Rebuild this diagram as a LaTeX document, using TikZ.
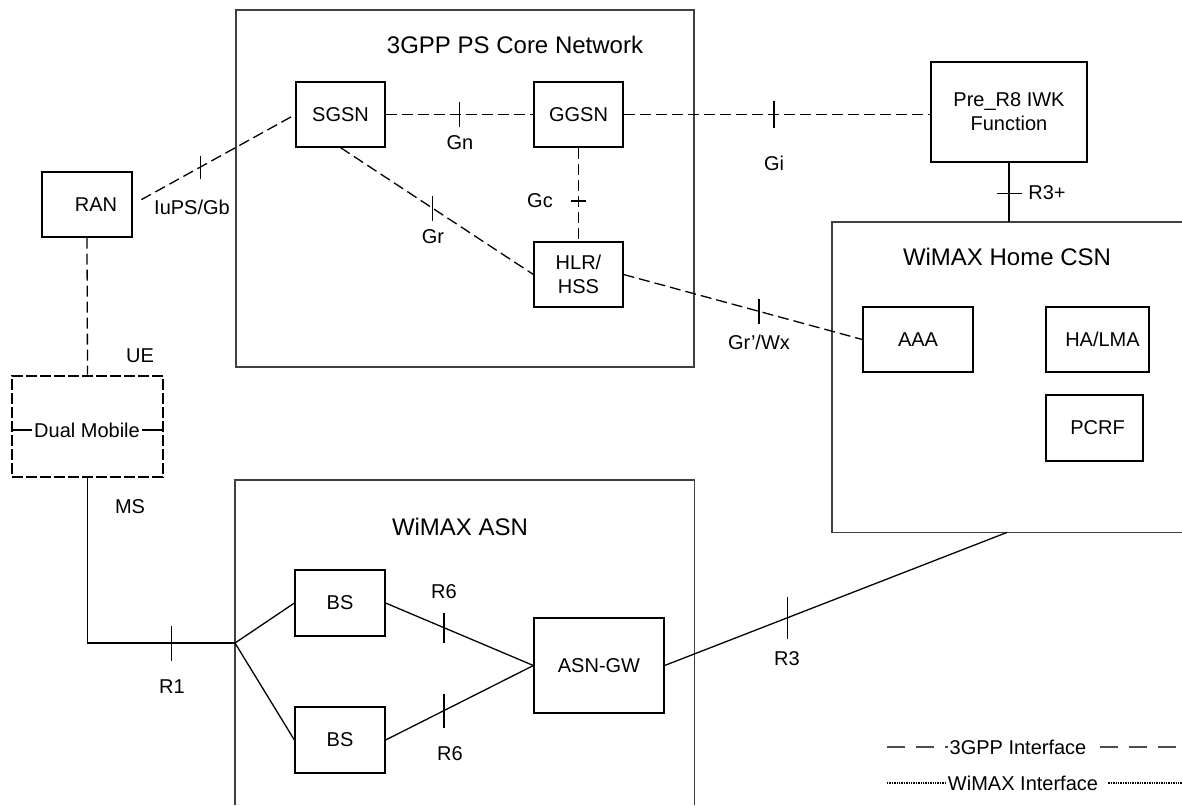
\documentclass[tikz,border=0pt]{standalone}
\usepackage{fontspec}
\setmainfont{Liberation Sans}

\tikzset{
  box/.style={draw, line width=0.6pt, inner sep=0pt, align=center},
  area/.style={draw=black!75, line width=0.9pt},
  title/.style={font=\fontsize{12}{14}\selectfont},
  gpp/.style={line width=0.65pt, dash pattern=on 5.5pt off 2.5pt},
  wmx/.style={line width=0.65pt},
  tick/.style={line width=0.65pt},
  legdash/.style={line width=0.7pt, draw=black!70, dash pattern=on 9pt off 5.5pt},
  legdot/.style={line width=1.3pt, dash pattern=on 0.7pt off 0.5pt},
}

\begin{document}
\begin{tikzpicture}[x=0.5pt, y=-0.5pt, font=\fontsize{10}{12}\selectfont]
\useasboundingbox (0,0) rectangle (1182,805);

% 3GPP core
\node[area, minimum width=229pt, minimum height=178.5pt] (core) at (465,188.5) {};
\node[title] (coreT) at (515,45) {3GPP PS Core Network};
\node[box, minimum width=44.5pt, minimum height=32.5pt] (SGSN) at (340.5,114.5) {SGSN};
\node[box, minimum width=44.5pt, minimum height=32.5pt] (GGSN) at (578.5,114.5) {GGSN};
\node[box, minimum width=44.5pt, minimum height=32.5pt] (HLR) at (578.5,274.5) {HLR/\\HSS};

\node[box, minimum width=78pt, minimum height=50pt] (IWK) at (1009,112) {Pre\_R8 IWK\\Function};
\node[box, minimum width=45pt, minimum height=32.5pt] (RAN) at (87,204.5) {\hspace{9pt}RAN};

% WiMAX home CSN
\node[minimum width=175pt, minimum height=155pt, inner sep=0pt] (CSN) at (1007,377) {};
\draw[area] (CSN.north east) -- (CSN.north west) -- (CSN.south west) -- (CSN.south east);
\node[title] (csnT) at (1007,257) {WiMAX Home CSN};
\node[box, minimum width=55pt, minimum height=32.5pt] (AAA) at (918,339.5) {AAA};
\node[box, minimum width=51.5pt, minimum height=32.5pt] (HALMA) at (1097.5,339.5) {\hspace{5pt}HA/LMA};
\node[box, minimum width=48.5pt, minimum height=33pt] (PCRF) at (1094.5,428) {\hspace{3pt}PCRF};

% terminal
\node[draw, line width=1.3pt, dash pattern=on 5.5pt off 1.5pt, minimum width=75.5pt, minimum height=50.5pt] (DM) at (87.5,426.5) {};
\node[inner sep=1pt] (DMT) at (87,430) {Dual Mobile};
\draw[wmx] (DM.west |- DMT) -- (DMT.west);
\draw[wmx] (DMT.east) -- (DM.east |- DMT);

% WiMAX ASN
\node[minimum width=229.5pt, minimum height=162.5pt, inner sep=0pt] (ASN) at (464.5,642.5) {};
\draw[area] (ASN.south west) -- (ASN.north west) -- (ASN.north east) -- (ASN.south east);
\node[title] (asnT) at (460,527) {WiMAX ASN};
\node[box, minimum width=45pt, minimum height=33pt] (BSa) at (340,603) {BS};
\node[box, minimum width=45pt, minimum height=33pt] (BSb) at (340,740) {BS};
\node[box, minimum width=65pt, minimum height=47.5pt] (GW) at (599,665.5) {ASN-GW};
\coordinate (junc) at (235,643);

% 3GPP interfaces
\draw[gpp, shorten <=5pt] (RAN.east) -- coordinate[pos=0.415] (iuT) (SGSN.west);
\draw[gpp] (SGSN.east) -- coordinate[pos=0.5] (gnT) (GGSN.west);
\draw[gpp] (GGSN.east) -- coordinate[pos=0.49] (giT) (IWK.west |- GGSN.east);
\draw[gpp] (SGSN.south) -- coordinate[pos=0.478] (grT) (HLR.west);
\draw[gpp] (GGSN.south) -- coordinate[pos=0.57] (gcT) (HLR.north);
\draw[gpp] (HLR.east) -- coordinate[pos=0.567] (wxT) (AAA.west);
\draw[gpp] (RAN.south) -- (DM.north);

\draw[tick] (iuT) ++(0,-11.5) -- ++(0,23);
\draw[tick] (gnT) ++(0,-12.5) -- ++(0,25);
\draw[tick] (giT) ++(0,-13.5) -- ++(0,27);
\draw[tick] (grT) ++(0,-12.5) -- ++(0,25);
\draw[tick] (gcT) ++(-7.5,0) -- ++(15,0);
\draw[tick] (wxT) ++(0,-12.5) -- ++(0,25);

% WiMAX interfaces
\draw[wmx] (IWK.south) -- coordinate[pos=0.52] (r3pT) (IWK.south |- CSN.north);
\draw[wmx] (DM.south) |- coordinate[pos=0.784] (r1T) (junc);
\draw[wmx] (junc) -- (BSa.west);
\draw[wmx] (junc) -- (BSb.west);
\draw[wmx] (BSa.east) -- coordinate[pos=0.396] (r6aT) (GW.west);
\draw[wmx] (BSb.east) -- coordinate[pos=0.396] (r6bT) (GW.west);
\draw[wmx] (GW.east) -- coordinate[pos=0.358] (r3T) (CSN.south);

\draw[tick] (r3pT) ++(-12.5,0) -- ++(25,0);
\draw[tick] (r1T) ++(0,-17.5) -- ++(0,35);
\draw[tick] (r6aT) ++(0,-15) -- ++(0,30);
\draw[tick] (r6bT) ++(0,-17) -- ++(0,34);
\draw[tick] (r3T) ++(0,-21) -- ++(0,42);

% labels
\node (iuL) at (192,207) {IuPS/Gb};
\node (gnL) at (460,143) {Gn};
\node (giL) at (774,163) {Gi};
\node (grL) at (433,237) {Gr};
\node (gcL) at (540,201) {Gc};
\node (wxL) at (759,342) {Gr’/Wx};
\node (r3pL) at (1047,193) {R3+};
\node (ueL) at (140,356) {UE};
\node (msL) at (130,507) {MS};
\node (r1L) at (172,687) {R1};
\node (r6aL) at (444,592) {R6};
\node (r6bL) at (450,754) {R6};
\node (r3L) at (787,659) {R3};

% legend
\coordinate (legGa) at (887,747);
\coordinate (legGb) at (1182,747);
\node[inner sep=0.5pt] (legG) at (1018,747) {3GPP Interface};
\draw[legdash] (legGa) -- (legG.west);
\draw[legdash] (legG.east) ++(12,0) -- (legGb);
\coordinate (legWa) at (887,783);
\coordinate (legWb) at (1182,783);
\node[inner sep=1pt] (legW) at (1023,783) {WiMAX Interface};
\draw[legdot] (legWa) -- (legW.west);
\draw[legdot] (legW.east) ++(8,0) -- (legWb);
\end{tikzpicture}
\end{document}
